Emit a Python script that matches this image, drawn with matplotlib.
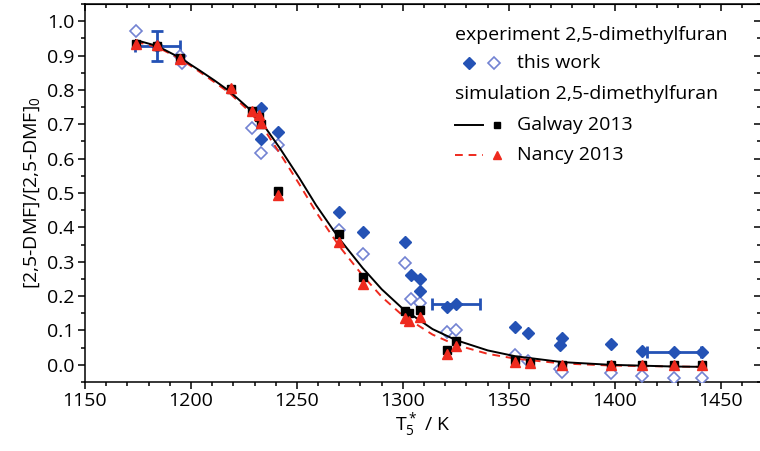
import numpy as np
import matplotlib
matplotlib.use("Agg")
import matplotlib.pyplot as plt
from matplotlib.ticker import MultipleLocator, FormatStrFormatter

plt.rcParams['font.family'] = ['Open Sans', 'DejaVu Sans']
plt.rcParams['mathtext.fontset'] = 'custom'
plt.rcParams['mathtext.rm'] = 'Open Sans'
plt.rcParams['mathtext.it'] = 'Open Sans'

# model curves
galway_T = [1174, 1184, 1195, 1204, 1211, 1218, 1228, 1234, 1242, 1251, 1259, 1270, 1281,
            1290, 1300, 1314, 1325, 1340, 1353, 1375, 1398, 1428, 1443]
galway_y = [0.945, 0.928, 0.893, 0.857, 0.828, 0.797, 0.742, 0.700, 0.630, 0.545, 0.465, 0.367, 0.282,
            0.220, 0.163, 0.104, 0.072, 0.042, 0.025, 0.008, 0.000, -0.005, -0.006]
nancy_T = galway_T
nancy_y = [0.940, 0.925, 0.890, 0.853, 0.823, 0.792, 0.735, 0.690, 0.615, 0.527, 0.445, 0.345, 0.260,
           0.198, 0.143, 0.088, 0.058, 0.032, 0.018, 0.004, -0.002, -0.005, -0.006]

# simulated points
sim_T = [1174, 1184, 1195, 1219, 1229, 1232, 1233, 1241, 1270, 1281, 1301, 1303, 1308,
         1321, 1325, 1353, 1360, 1375, 1398, 1413, 1428, 1441]
galway_pts = [0.933, 0.928, 0.893, 0.804, 0.738, 0.722, 0.700, 0.506, 0.380, 0.257, 0.157, 0.152,
              0.160, 0.043, 0.070, 0.014, 0.004, 0.0, 0.0, 0.0, 0.0, 0.0]
nancy_pts = [0.933, 0.930, 0.890, 0.805, 0.740, 0.727, 0.705, 0.494, 0.358, 0.234, 0.135, 0.128,
             0.138, 0.031, 0.055, 0.009, 0.004, 0.0, 0.0, 0.0, 0.0, 0.0]

# experiment, filled diamonds
exp_T = [1184, 1233, 1233, 1241, 1270, 1281, 1301, 1304, 1308, 1308, 1321, 1325,
         1353, 1359, 1375, 1374, 1398, 1413, 1428, 1441]
exp_y = [0.927, 0.748, 0.656, 0.677, 0.446, 0.387, 0.358, 0.261, 0.249, 0.215, 0.167, 0.176,
         0.110, 0.094, 0.078, 0.058, 0.060, 0.041, 0.036, 0.036]
# experiment, open diamonds
exp2_T = [1174, 1195, 1196, 1229, 1233, 1241, 1270, 1281, 1301, 1304, 1308, 1321, 1325,
          1353, 1359, 1374, 1375, 1398, 1413, 1428, 1441]
exp2_y = [0.971, 0.900, 0.878, 0.690, 0.617, 0.641, 0.392, 0.322, 0.295, 0.191, 0.181, 0.096, 0.100,
          0.029, 0.012, -0.011, -0.022, -0.024, -0.032, -0.039, -0.039]

# error bars
err_T = [1184, 1325, 1428]
err_y = [0.927, 0.176, 0.036]
err_x = [10.6, 11.2, 12.8]
err_yv = [0.044, 0, 0]

blue = '#2452b5'
lblue = '#7383d2'
red = '#ee2a1e'
fs = 14

fig = plt.figure(figsize=(7.6, 4.51), dpi=100)
ax = fig.add_axes([85 / 760, 1 - 382 / 451, 676 / 760, 378 / 451])

ax.errorbar(err_T, err_y, xerr=err_x, yerr=err_yv, fmt='none', ecolor=blue,
            elinewidth=2, capsize=4, capthick=2, zorder=3)
ax.plot(exp2_T, exp2_y, 'D', ms=6.5, mfc='white', mec=lblue, mew=1.2, ls='none', zorder=3)
ax.plot(exp_T, exp_y, 'D', ms=6.5, mfc=blue, mec=blue, ls='none', zorder=4)
ax.plot(nancy_T, nancy_y, color=red, lw=1.4, ls=(0, (4, 3)), zorder=5)
ax.plot(galway_T, galway_y, color='black', lw=1.4, zorder=5)
ax.plot(sim_T, galway_pts, 's', ms=5.5, color='black', ls='none', zorder=6)
ax.plot(sim_T, nancy_pts, '^', ms=6.5, color=red, ls='none', zorder=7)

ax.set_xlim(1150, 1469)
ax.set_ylim(-0.05, 1.05)
ax.xaxis.set_major_locator(MultipleLocator(50))
ax.xaxis.set_minor_locator(MultipleLocator(10))
ax.yaxis.set_major_locator(MultipleLocator(0.1))
ax.yaxis.set_minor_locator(MultipleLocator(0.05))
ax.yaxis.set_major_formatter(FormatStrFormatter('%.1f'))
ax.tick_params(which='both', direction='out', top=False, right=False, labelsize=fs, width=1.1)
ax.tick_params(which='major', length=5, pad=2.5)
ax.tick_params(which='minor', length=3)
for s in ax.spines.values():
    s.set_linewidth(1.1)

# mirrored inward ticks on top and right
axt = ax.secondary_xaxis('top')
axt.xaxis.set_major_locator(MultipleLocator(50))
axt.xaxis.set_minor_locator(MultipleLocator(10))
axt.tick_params(which='both', direction='in', labeltop=False, width=1.1)
axt.tick_params(which='major', length=5)
axt.tick_params(which='minor', length=3)
axr = ax.secondary_yaxis('right')
axr.yaxis.set_major_locator(MultipleLocator(0.1))
axr.yaxis.set_minor_locator(MultipleLocator(0.05))
axr.tick_params(which='both', direction='in', labelright=False, width=1.1)
axr.tick_params(which='major', length=5)
axr.tick_params(which='minor', length=3)

ax.set_ylabel('[2,5-DMF]/[2,5-DMF]$_0$', fontsize=fs, labelpad=4)
ax.set_xlabel('T$_5^*$ / K', fontsize=fs, labelpad=0)

# legend block
def px(x, y):
    return x / 760, 1 - y / 451

kw = dict(transform=fig.transFigure, fontsize=fs, va='center', ha='left')
fig.text(*px(455, 35), 'experiment 2,5-dimethylfuran', **kw)
fig.text(*px(517, 63), 'this work', **kw)
fig.text(*px(455, 94), 'simulation 2,5-dimethylfuran', **kw)
fig.text(*px(517, 125), 'Galway 2013', **kw)
fig.text(*px(517, 155), 'Nancy 2013', **kw)
lk = dict(transform=fig.transFigure, ls='none')
fig.add_artist(plt.Line2D([469 / 760], [1 - 63 / 451], marker='D', ms=6, mfc=blue, mec=blue, **lk))
fig.add_artist(plt.Line2D([494 / 760], [1 - 63 / 451], marker='D', ms=6, mfc='white', mec=lblue, mew=1.2, **lk))
fig.add_artist(plt.Line2D([455 / 760, 483 / 760], [1 - 125 / 451] * 2, color='black', lw=1.4,
                          transform=fig.transFigure))
fig.add_artist(plt.Line2D([497 / 760], [1 - 125 / 451], marker='s', ms=5, color='black', **lk))
fig.add_artist(plt.Line2D([455 / 760, 483 / 760], [1 - 155 / 451] * 2, color=red, lw=1.4,
                          ls=(0, (4, 3)), transform=fig.transFigure))
fig.add_artist(plt.Line2D([497 / 760], [1 - 155 / 451], marker='^', ms=6, color=red, **lk))

fig.savefig('out.png', dpi=100)
